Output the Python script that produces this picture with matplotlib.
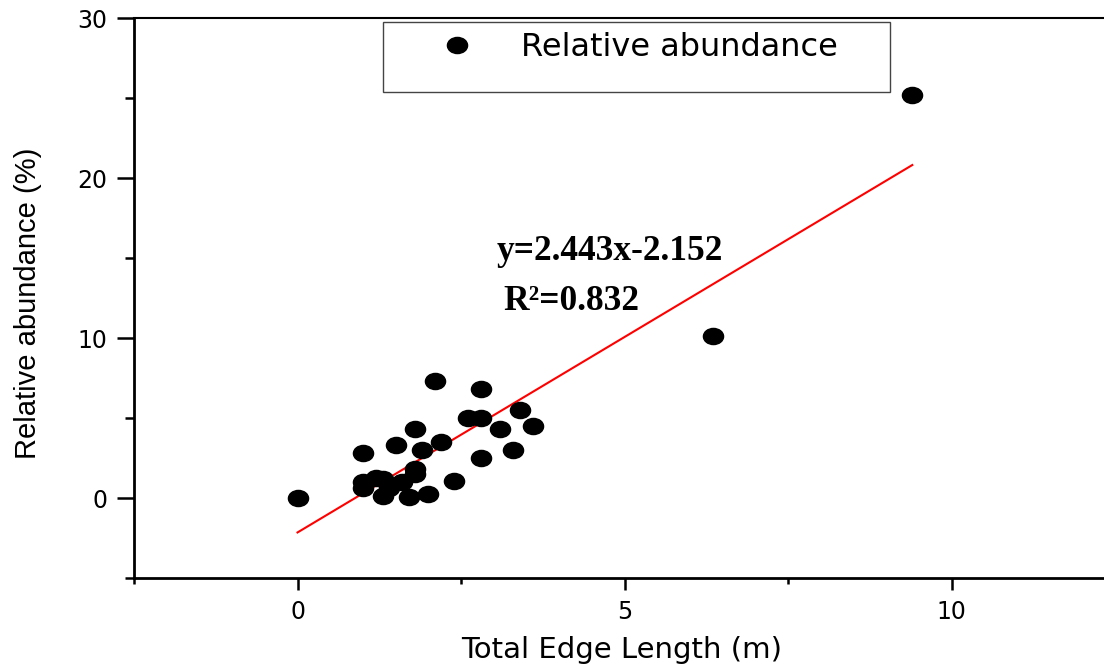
import numpy as np
import matplotlib
matplotlib.use("Agg")
import matplotlib.pyplot as plt
from matplotlib.path import Path
from matplotlib.transforms import Affine2D
from matplotlib.patches import Rectangle
from matplotlib.lines import Line2D

# total edge length (m) and relative abundance (%)
edge_len = [0.0, 1.0, 1.0, 1.0, 1.2, 1.3, 1.3, 1.4, 1.5, 1.6, 1.7, 1.8, 1.8, 1.8,
            1.9, 2.0, 2.1, 2.2, 2.4, 2.6, 2.8, 2.8, 2.8, 3.1, 3.3, 3.4, 3.6, 6.35, 9.4]
abundance = [0.0, 2.8, 1.0, 0.6, 1.25, 1.2, 0.1, 0.65, 3.3, 1.0, 0.05, 4.3, 1.8, 1.5,
             3.0, 0.25, 7.3, 3.5, 1.05, 5.0, 6.8, 5.0, 2.5, 4.3, 3.0, 5.5, 4.5, 10.1, 25.2]

# fitted line as reported on the chart
slope, intercept = 2.443, -2.152
r2 = 0.832

xticks_major = [0, 5, 10]
yticks_major = [0, 10, 20, 30]

fig = plt.figure(figsize=(11.04, 6.65), dpi=100)
ax = fig.add_axes([0.1214, 0.1308, 0.8886, 0.8421])

# slightly wide ellipse marker, like the original
ell = Path.unit_circle().transformed(Affine2D().scale(1.25, 1.0))

ax.plot(edge_len, abundance, linestyle="none", marker=ell, markersize=14.5,
        color="black", zorder=3)

xfit = np.array([min(edge_len), max(edge_len)])
ax.plot(xfit, slope * xfit + intercept, color="red", linewidth=1.5, zorder=2)

ax.set_xlim(-2.5, 12.5)
ax.set_ylim(-5, 30)
ax.set_xticks(xticks_major)
ax.set_xticks([-2.5, 2.5, 7.5, 12.5], minor=True)
ax.set_yticks(yticks_major)
ax.set_yticks([-5, 5, 15, 25], minor=True)

for s in ["left", "bottom"]:
    ax.spines[s].set_linewidth(2.0)
ax.spines["top"].set_linewidth(1.5)
ax.spines["right"].set_visible(False)

ax.tick_params(axis="x", which="major", length=8.5, width=1.8, pad=7,
               labelsize=17, direction="out")
ax.tick_params(axis="x", which="minor", length=4.5, width=1.8, direction="out")
ax.tick_params(axis="y", which="major", length=12, width=1.8, pad=7,
               labelsize=17, direction="out")
ax.tick_params(axis="y", which="minor", length=6.5, width=1.8, direction="out")
for lab in ax.get_xticklabels() + ax.get_yticklabels():
    lab.set_family("DejaVu Sans")

ax.set_xlabel("Total Edge Length (m)", fontsize=21, family="DejaVu Sans")
ax.set_ylabel("Relative abundance (%)", fontsize=21, family="Liberation Sans")
ax.xaxis.label.set_va("center")
ax.yaxis.label.set_va("center")
ax.xaxis.set_label_coords(0.4969, -0.1286)
ax.yaxis.set_label_coords(-0.108, 0.49)

ax.text(3.04, 14.9, "y=%.3fx%.3f" % (slope, intercept), fontsize=25.5,
        family="Liberation Serif", fontweight="bold", va="baseline")
ax.text(3.15, 11.75, "R\u00b2=%.3f" % r2, fontsize=25.5,
        family="Liberation Serif", fontweight="bold", va="baseline")

# legend: frame drawn separately because it is taller than its one entry
ax.add_patch(Rectangle((0.2538, 0.868), 0.5168, 0.125, transform=ax.transAxes,
                       fill=False, edgecolor="#444444", linewidth=1.0, zorder=4))
handle = Line2D([], [], linestyle="none", marker=ell, markersize=14.5, color="black")
leg = ax.legend([handle], ["Relative abundance"], loc="upper left",
                bbox_to_anchor=(0.284, 0.998), frameon=False,
                prop={"family": "DejaVu Sans", "size": 23},
                handletextpad=1.0, borderaxespad=0)

fig.savefig("out.png", dpi=100)
